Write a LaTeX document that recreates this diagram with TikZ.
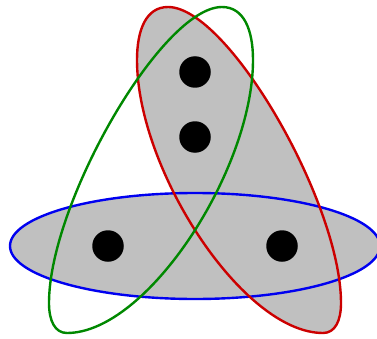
\documentclass[tikz,border=0pt]{standalone}
\usepackage{tikz}
\usepackage{xcolor}

\definecolor{setred}{RGB}{204,0,0}
\definecolor{setgreen}{RGB}{0,136,0}
\definecolor{setblue}{RGB}{0,0,240}
\definecolor{setgray}{RGB}{192,192,192}

% outline of one slanted edge (the green one is its mirror image)
\newcommand{\slantedge}{(168,331) .. controls (146,331) and (137,308) .. (137,278)
  .. controls (137,168) and (243,5) .. (323,5)
  .. controls (335,5) and (341,17) .. (341,35)
  .. controls (341,135) and (228,331) .. (168,331) -- cycle}

\begin{document}
\begin{tikzpicture}[x=1pt, y=1pt, line width=2.4pt,
  vertex/.style={circle, fill=black, inner sep=0pt, minimum size=31.5pt}]
\useasboundingbox (0,0) rectangle (377,338);
% gray fills of the two filled edges
\fill[setgray] (195,92) ellipse [x radius=185, y radius=53];
\fill[setgray] \slantedge;
% outlines
\draw[setblue] (195,92) ellipse [x radius=185, y radius=53];
\draw[setred] \slantedge;
\begin{scope}[xshift=390pt, xscale=-1]
  \draw[setgreen] \slantedge;
\end{scope}
% vertices
\node[vertex] (v1) at (195,266) {};
\node[vertex] (v2) at (195,201) {};
\node[vertex] (v3) at (108,92) {};
\node[vertex] (v4) at (282,92) {};
\end{tikzpicture}
\end{document}
